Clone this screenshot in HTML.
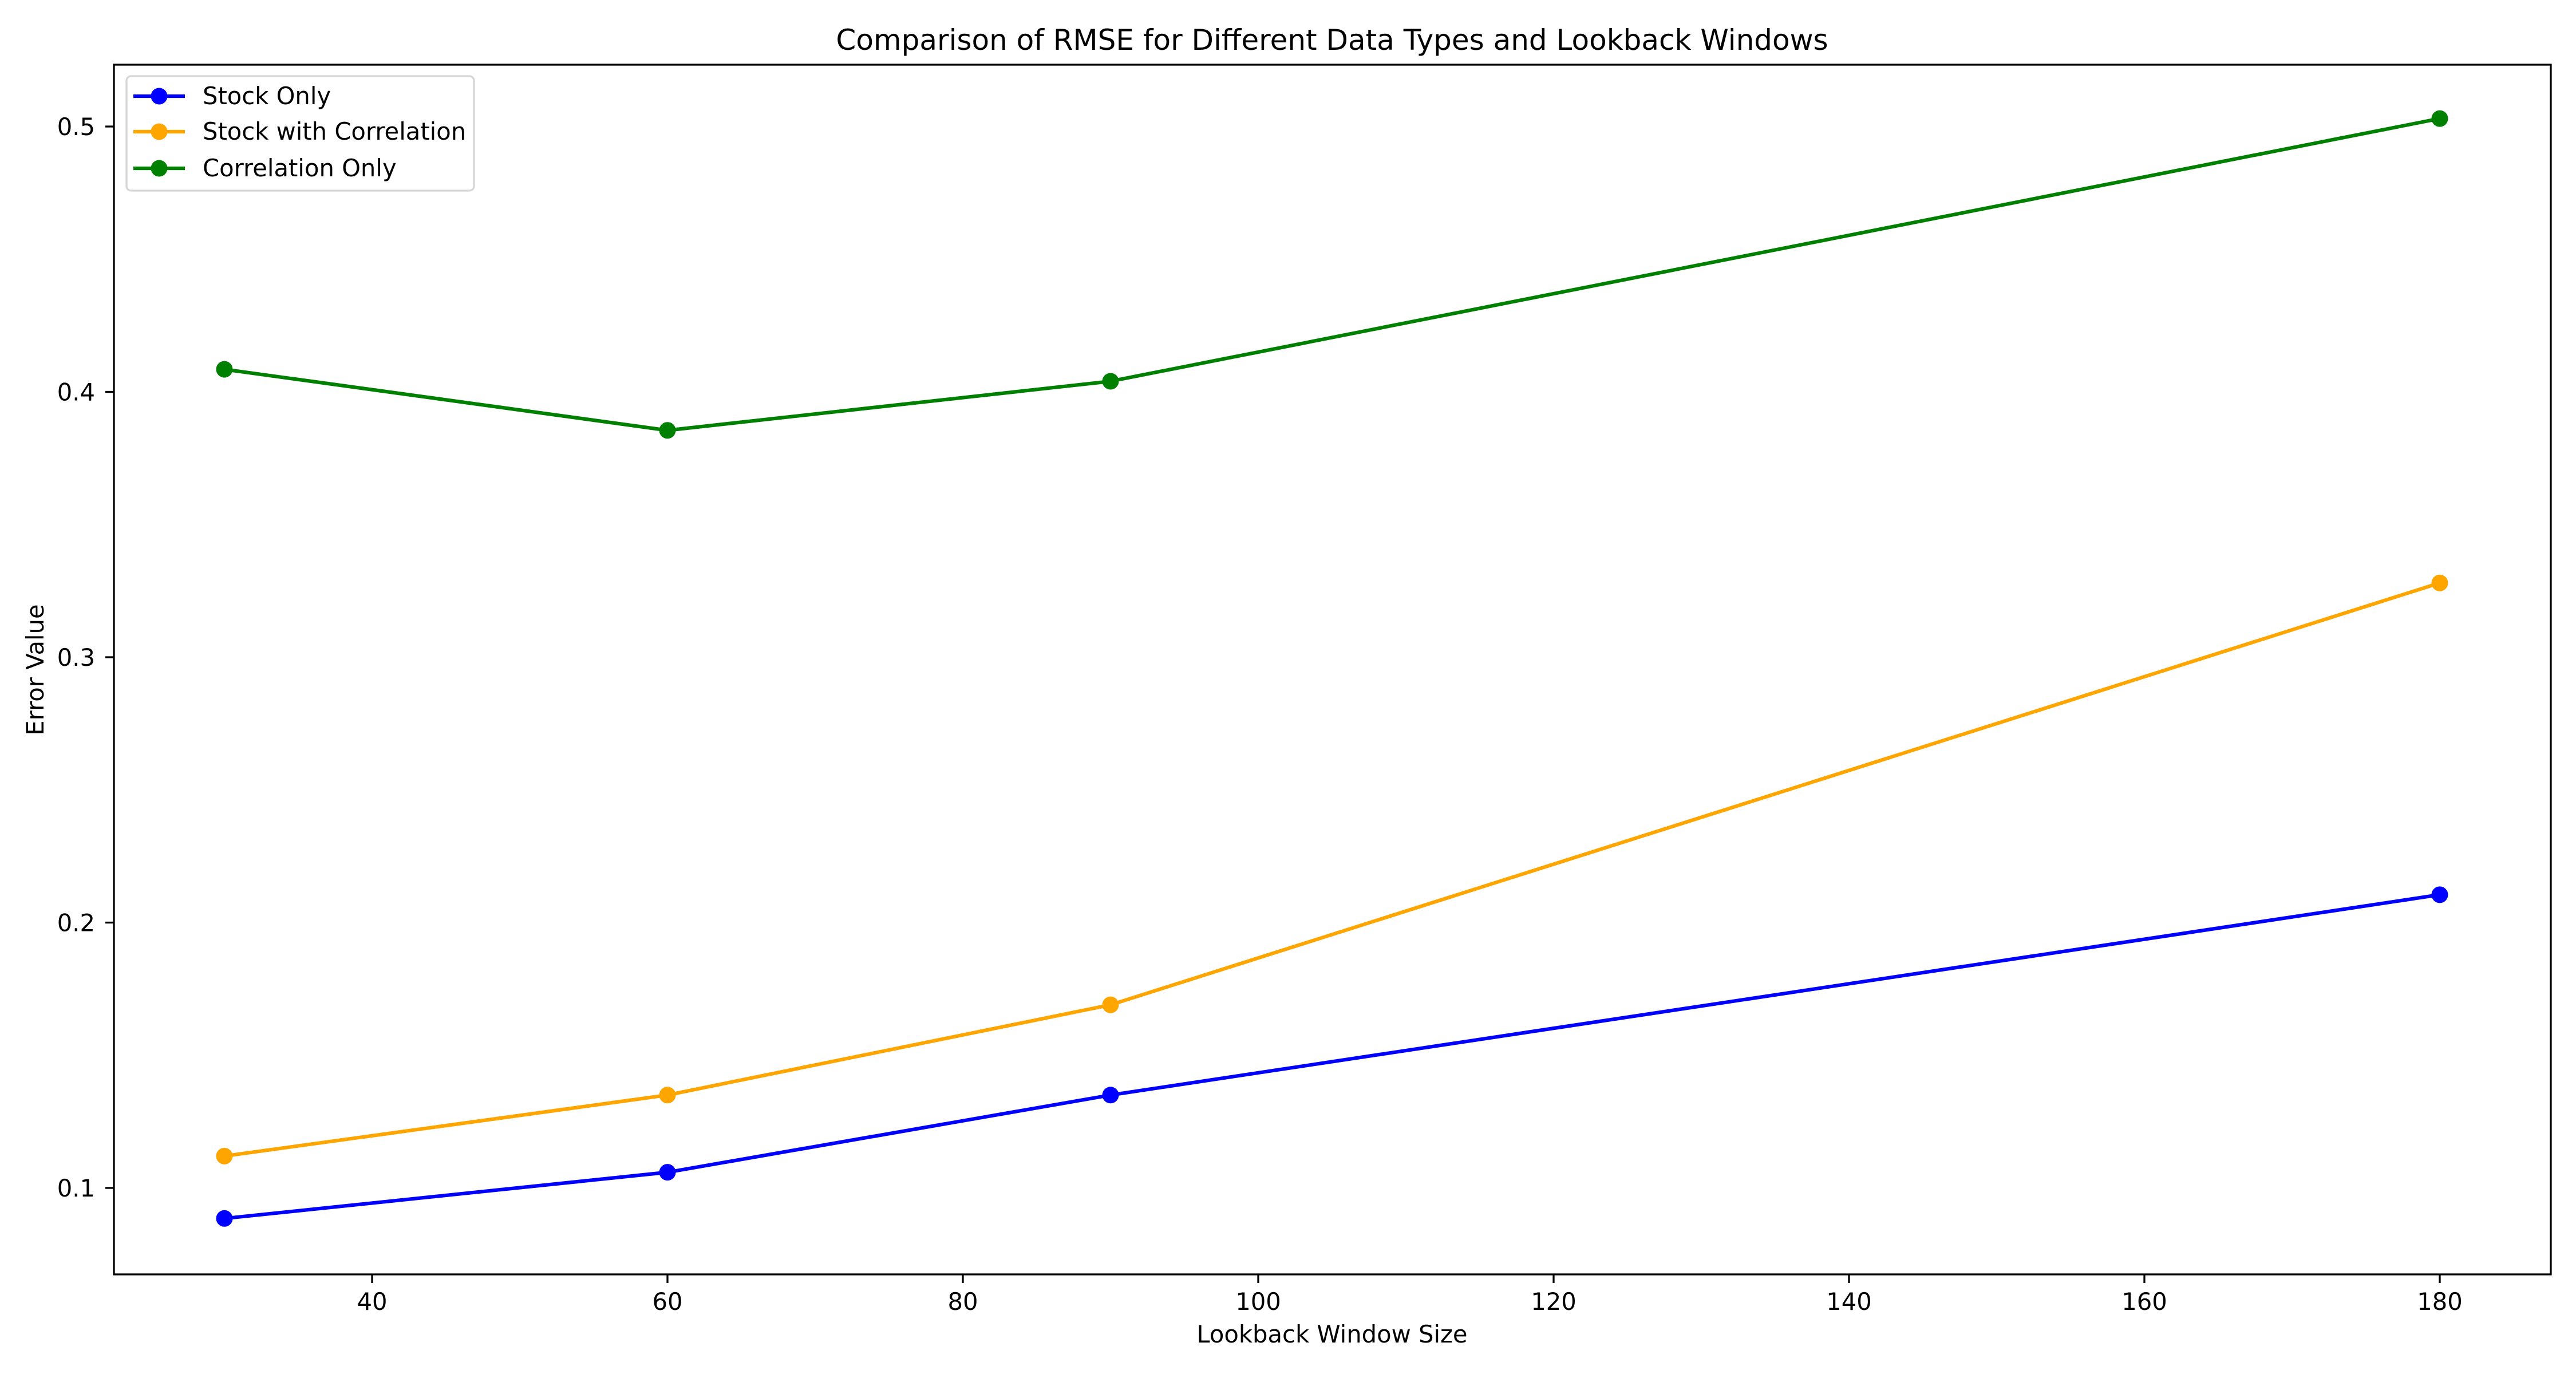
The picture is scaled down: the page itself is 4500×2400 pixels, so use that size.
<!DOCTYPE html>
<html><head><meta charset="utf-8"><style>
html,body{margin:0;padding:0;background:#fff;}
svg{display:block;font-family:"DejaVu Sans","Liberation Sans",sans-serif;}
</style></head><body>
<svg id="chart" width="4500" height="2400" viewBox="0 0 4500 2400" xmlns="http://www.w3.org/2000/svg">
<rect width="4500" height="2400" fill="#fff"/>
<text x="2327" y="87" font-size="50" text-anchor="middle">Comparison of RMSE for Different Data Types and Lookback Windows</text>
<text x="2327" y="2345" font-size="41.7" text-anchor="middle">Lookback Window Size</text>
<text x="0" y="0" font-size="41.7" text-anchor="middle" transform="translate(76,1170) rotate(-90)">Error Value</text>
<g id="ticks"></g>
<g id="series"></g>
<rect x="199" y="113" width="4257" height="2113" fill="none" stroke="#000" stroke-width="3.3"/>
<g>
<rect x="221" y="133" width="607" height="200" rx="8" fill="#fff" fill-opacity="0.8" stroke="#d6d6d6" stroke-width="3.3"/>
<g><line x1="233" y1="168" x2="323" y2="168" stroke="#0000ff" stroke-width="6.25"/><circle cx="278" cy="168" r="14.5" fill="#0000ff"/><text x="354" y="182" font-size="41.7">Stock Only</text></g>
<g><line x1="233" y1="230" x2="323" y2="230" stroke="#ffa500" stroke-width="6.25"/><circle cx="278" cy="230" r="14.5" fill="#ffa500"/><text x="354" y="244" font-size="41.7">Stock with Correlation</text></g>
<g><line x1="233" y1="294" x2="323" y2="294" stroke="#008000" stroke-width="6.25"/><circle cx="278" cy="294" r="14.5" fill="#008000"/><text x="354" y="308" font-size="41.7">Correlation Only</text></g>
</g>
</svg>
<script>
const windows = [30, 60, 90, 180];
const stockOnly = [0.0885, 0.1059, 0.135, 0.2105];
const stockWithCorr = [0.112, 0.135, 0.169, 0.328];
const corrOnly = [0.4085, 0.3855, 0.404, 0.503];
const xTicks = [40, 60, 80, 100, 120, 140, 160, 180];
const yTicks = [0.1, 0.2, 0.3, 0.4, 0.5];
const yTickLabels = ["0.1", "0.2", "0.3", "0.4", "0.5"];

const NS = "http://www.w3.org/2000/svg";
function xs(v){ return 392 + (v - 30) * 25.8; }
function ys(v){ return 2075 - (v - 0.1) * 4635; }
const tg = document.getElementById('ticks');
xTicks.forEach(t => {
  const l = document.createElementNS(NS,'line');
  l.setAttribute('x1', xs(t)); l.setAttribute('x2', xs(t));
  l.setAttribute('y1', 2226); l.setAttribute('y2', 2241);
  l.setAttribute('stroke','#000'); l.setAttribute('stroke-width','3.3');
  
  
  tg.appendChild(l);
  const tx = document.createElementNS(NS,'text');
  tx.setAttribute('x', xs(t)); tx.setAttribute('y', 2288);
  tx.setAttribute('font-size','41.7'); tx.setAttribute('text-anchor','middle');
  tx.textContent = String(t);
  
  
  tg.appendChild(tx);
});
yTicks.forEach((t,i) => {
  const l = document.createElementNS(NS,'line');
  l.setAttribute('x1', 184); l.setAttribute('x2', 199);
  l.setAttribute('y1', ys(t)); l.setAttribute('y2', ys(t));
  l.setAttribute('stroke','#000'); l.setAttribute('stroke-width','3.3');
  
  
  tg.appendChild(l);
  const tx = document.createElementNS(NS,'text');
  tx.setAttribute('x', 166); tx.setAttribute('y', ys(t) + 15);
  tx.setAttribute('font-size','41.7'); tx.setAttribute('text-anchor','end');
  tx.textContent = yTickLabels[i];
  
  
  tg.appendChild(tx);
});
const sg = document.getElementById('series');
function drawSeries(vals, color, name){
  const g = document.createElementNS(NS,'g');
  
  
  const p = document.createElementNS(NS,'polyline');
  p.setAttribute('points', vals.map((v,i)=> xs(windows[i]) + ',' + ys(v)).join(' '));
  p.setAttribute('fill','none'); p.setAttribute('stroke', color);
  p.setAttribute('stroke-width','6.25'); p.setAttribute('stroke-linejoin','round');
  
  
  g.appendChild(p);
  vals.forEach((v,i) => {
    const c = document.createElementNS(NS,'circle');
    c.setAttribute('cx', xs(windows[i])); c.setAttribute('cy', ys(v));
    c.setAttribute('r', 14.5); c.setAttribute('fill', color);
    
    
    g.appendChild(c);
  });
  sg.appendChild(g);
}
drawSeries(stockOnly, '#0000ff', 'stock-only');
drawSeries(stockWithCorr, '#ffa500', 'stock-with-correlation');
drawSeries(corrOnly, '#008000', 'correlation-only');
</script>
</body></html>
